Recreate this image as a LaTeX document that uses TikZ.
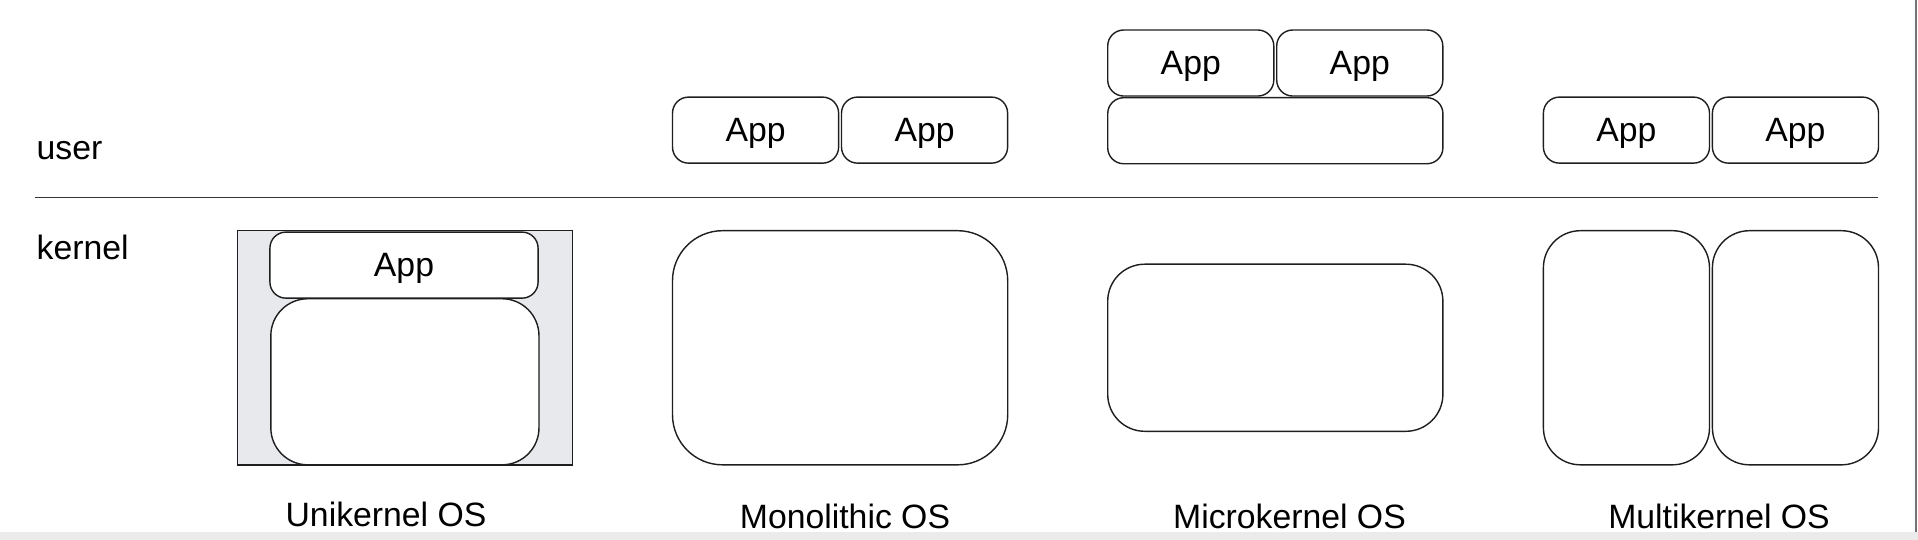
\documentclass[tikz,border=0pt]{standalone}
\usepackage{fontspec}
\setmainfont{Liberation Sans}
\usepackage{xcolor}
\usetikzlibrary{positioning}

\definecolor{unibg}{HTML}{E7E9EC}
\definecolor{edge}{HTML}{1E1E1E}
\newcommand{\osfont}{\fontsize{9.6}{11.5}\selectfont}

\begin{document}
\begin{tikzpicture}[
  x = 0.01cm, y = -0.01cm,
  node distance = 0cm and 0.015cm,
  app/.style = {rectangle, draw=edge, line width=0.4pt, rounded corners=0.16cm,
                minimum width=1.66cm, minimum height=0.66cm, inner sep=0pt,
                text height=0.72em, text depth=0.08em, font=\osfont},
  kern/.style = {rectangle, draw=edge, line width=0.4pt, rounded corners=0.5cm,
                 minimum width=3.35cm, minimum height=2.34cm, inner sep=0pt},
  lbl/.style = {anchor=base, inner sep=0pt, font=\osfont},
  side/.style = {anchor=base west, inner sep=0pt, font=\osfont}
]
\useasboundingbox (0,0) rectangle (1918,540);
\fill[black!8] (0,532) rectangle (1918,540);
\fill[black!55] (1914.7,0) rectangle (1917,532);

% user / kernel split
\node[side] (user) at (36,160) {user};
\node[side] (kernel) at (36,260) {kernel};
\coordinate (splitL) at (34.8,197.3);
\coordinate (splitR) at (1877.6,197.3);
\draw[edge!90, line width=0.45pt] (splitL) -- (splitR);

% unikernel
\node[rectangle, draw=edge, line width=0.4pt, fill=unibg, minimum width=3.35cm,
      minimum height=2.34cm, anchor=north west] (uni) at (236.6,230) {};
\node[app, fill=white, minimum width=2.68cm, anchor=north] (uapp) at (404,231.4) {App};
\node[kern, fill=white, minimum width=2.68cm, minimum height=1.66cm,
      rounded corners=0.37cm, anchor=south] (ukern) at (uni.south) {};
\node[lbl] (uname) at (386,526) {Unikernel OS};

% monolithic
\node[app, anchor=north west] (mapp1) at (671.8,96.4) {App};
\node[app, right=of mapp1] (mapp2) {App};
\node[kern, anchor=north west] (mkern) at (671.8,230) {};
\node[lbl] (mname) at (845,528.5) {Monolithic OS};

% microkernel
\node[app, anchor=north west] (capp1) at (1107,29.3) {App};
\node[app, right=of capp1] (capp2) {App};
\node[app, minimum width=3.35cm, anchor=north west] (cserv) at (1107,97) {};
\node[kern, minimum height=1.67cm, rounded corners=0.37cm,
      anchor=north west] (ckern) at (1107,263.5) {};
\node[lbl] (cname) at (1289.5,528.5) {Microkernel OS};

% multikernel
\node[app, anchor=north west] (xapp1) at (1542.7,96.4) {App};
\node[app, right=of xapp1] (xapp2) {App};
\node[kern, minimum width=1.66cm, rounded corners=0.37cm,
      anchor=north west] (xkern1) at (1542.7,230) {};
\node[kern, minimum width=1.66cm, rounded corners=0.37cm,
      right=of xkern1] (xkern2) {};
\node[lbl] (xname) at (1719,528.5) {Multikernel OS};
\end{tikzpicture}
\end{document}
